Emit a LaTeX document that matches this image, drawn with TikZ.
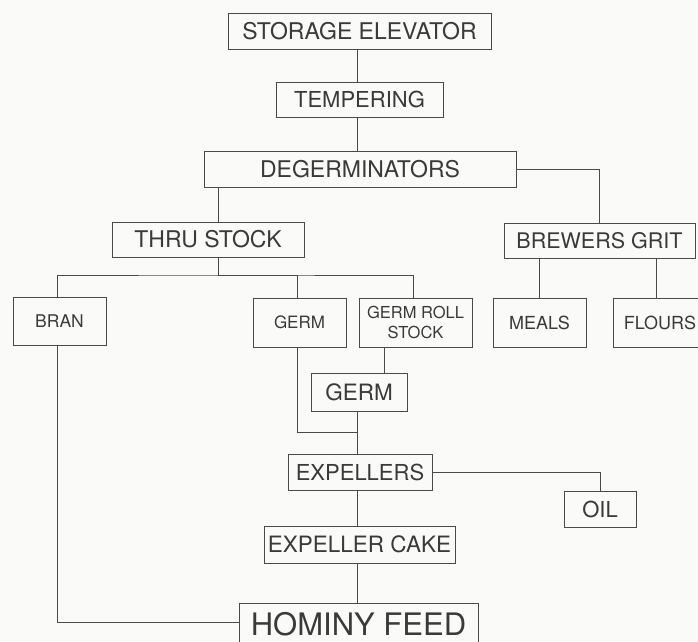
\documentclass[tikz,border=0pt]{standalone}
\usepackage{fontspec}
\setmainfont{TeX Gyre Heros}
\begin{document}
\begin{tikzpicture}[x=1pt,y=-1pt,
  box/.style={draw=linegray, line width=0.8pt, inner sep=0pt, text=txtgray, align=center},
  conn/.style={draw=linegray, line width=0.7pt}]
\definecolor{linegray}{HTML}{4A4A4A}
\definecolor{txtgray}{HTML}{3A3A3A}
\definecolor{paper}{HTML}{FAFAF8}
\fill[paper] (0,0) rectangle (698,641);
\useasboundingbox (0,0) rectangle (698,641);
\clip (0,0) rectangle (698,641);
% boxes
\node[box, minimum width=263pt, minimum height=36pt, font=\fontsize{23}{26}\selectfont] (se) at (359.5,31) {STORAGE ELEVATOR};
\node[box, minimum width=167pt, minimum height=35pt, font=\fontsize{22}{25}\selectfont] (tp) at (359.5,99.5) {TEMPERING};
\node[box, minimum width=312pt, minimum height=36pt, font=\fontsize{23}{26}\selectfont] (dg) at (360,169) {DEGERMINATORS};
\node[box, minimum width=192pt, minimum height=35pt, font=\fontsize{23}{26}\selectfont] (ts) at (208,239.5) {THRU STOCK};
\node[box, minimum width=191pt, minimum height=35pt, font=\fontsize{21.5}{24}\selectfont] (bg) at (599.5,240.5) {BREWERS GRIT};
\node[box, minimum width=93pt, minimum height=48pt, font=\fontsize{17.5}{20}\selectfont] (br) at (59.5,321) {BRAN};
\node[box, minimum width=93pt, minimum height=49pt, font=\fontsize{17}{20}\selectfont] (g1) at (299.5,322.5) {GERM};
\node[box, minimum width=113pt, minimum height=49pt, font=\fontsize{16.5}{19.5}\selectfont] (grs) at (415.5,322.5) {GERM ROLL\\STOCK};
\node[box, minimum width=93pt, minimum height=49pt, font=\fontsize{18}{21}\selectfont] (ml) at (539.5,322.5) {MEALS};
\node[box, minimum width=94pt, minimum height=49pt, font=\fontsize{18}{21}\selectfont] (fl) at (660,322.5) {FLOURS};
\node[box, minimum width=96pt, minimum height=38pt, font=\fontsize{22.5}{25}\selectfont] (g2) at (359,392) {GERM};
\node[box, minimum width=144pt, minimum height=36pt, font=\fontsize{22}{25}\selectfont] (ex) at (360,472) {EXPELLERS};
\node[box, minimum width=72pt, minimum height=36pt, font=\fontsize{22}{25}\selectfont] (oil) at (600,509) {OIL};
\node[box, minimum width=191pt, minimum height=37pt, font=\fontsize{22.5}{25}\selectfont] (ec) at (359.5,544.5) {EXPELLER CAKE};
\node[box, minimum width=239pt, minimum height=42pt, font=\fontsize{31}{34}\selectfont] (hf) at (358.5,624) {HOMINY FEED};
% reference coordinates for connector columns
\coordinate (spine) at (357,0);
\coordinate (xts) at (218,0);
\coordinate (bus) at (218,275);
\coordinate (xfl) at (656,0);
\coordinate (xgr) at (384,0);
\coordinate (xg1) at (297,0);
\coordinate (xgrs) at (413,0);
\coordinate (xbr) at (57,0);
\coordinate (join) at (357,432);
\coordinate (hfin) at (240,622);
% connectors
\draw[conn] (se.south -| spine) -- (tp.north -| spine);
\draw[conn] (tp.south -| spine) -- (dg.north -| spine);
\draw[conn] (dg.south -| xts) -- (ts.north -| xts);
\draw[conn] (dg.east) -| (bg.north);
\draw[conn] (ts.south -| xts) -- (bus);
\draw[conn] (br.north -| xbr) |- (bus) -| (grs.north -| xgrs);
\draw[conn] (bus) -| (g1.north -| xg1);
\draw[conn] (bg.south -| ml.north) -- (ml.north);
\draw[conn] (bg.south -| xfl) -- (fl.north -| xfl);
\draw[conn] (grs.south -| xgr) -- (g2.north -| xgr);
\draw[conn] (g1.south -| xg1) |- (join);
\draw[conn] (g2.south -| spine) -- (ex.north -| spine);
\draw[conn] (ex.east) -| (oil.north);
\draw[conn] (ex.south -| spine) -- (ec.north -| spine);
\draw[conn] (ec.south -| spine) -- (hf.north -| spine);
\draw[conn] (br.south -| xbr) |- (hfin);
\end{tikzpicture}
\end{document}
